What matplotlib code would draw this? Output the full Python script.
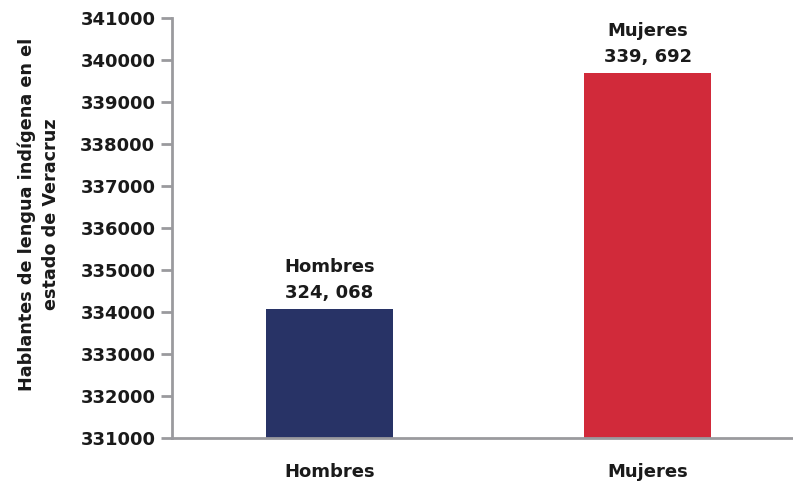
import matplotlib
matplotlib.use("Agg")
import matplotlib.pyplot as plt

categories = ["Hombres", "Mujeres"]
values = [334068, 339692]
bar_labels = ["Hombres\n324, 068", "Mujeres\n339, 692"]
colors = ["#283366", "#D12A3A"]
yticks = list(range(331000, 341001, 1000))

plt.rcParams['font.family'] = ['DejaVu Sans']

fig = plt.figure(figsize=(7.93, 4.84), dpi=100)
ax = fig.add_axes([172/793, 46/484, 1 - 172/793, (438-18)/484])

x = list(range(len(categories)))
bars = ax.bar(x, values, width=0.4, color=colors, zorder=2)
ax.set_ylim(331000, 341000)
ax.set_xlim(-0.495, 1.457)
ax.set_yticks(yticks)
ax.set_yticklabels([str(t) for t in yticks], fontsize=13, fontweight='bold', color='#1a1a1a')
ax.set_xticks(x)
ax.set_xticklabels(categories, fontsize=13, fontweight='bold', color='#1a1a1a')
ax.tick_params(axis='x', length=0, pad=18)
ax.tick_params(axis='y', length=8, width=2, color='#9A9A9E', pad=4)
for s in ['top', 'right']:
    ax.spines[s].set_visible(False)
for s in ['left', 'bottom']:
    ax.spines[s].set_color('#9A9A9E')
    ax.spines[s].set_linewidth(2)

for b, lab in zip(bars, bar_labels):
    ax.annotate(lab, (b.get_x() + b.get_width()/2, b.get_height()),
                xytext=(0, 5), textcoords='offset points', ha='center', va='bottom',
                fontsize=13, fontweight='bold', linespacing=1.6, color='#1a1a1a')

fig.text(39/793, 1 - 214/484, "Hablantes de lengua indígena en el\nestado de Veracruz",
         rotation=90, ha='center', va='center', fontsize=12.7, fontweight='bold',
         linespacing=1.45, color='#1a1a1a')

fig.savefig("out.png", dpi=100)
